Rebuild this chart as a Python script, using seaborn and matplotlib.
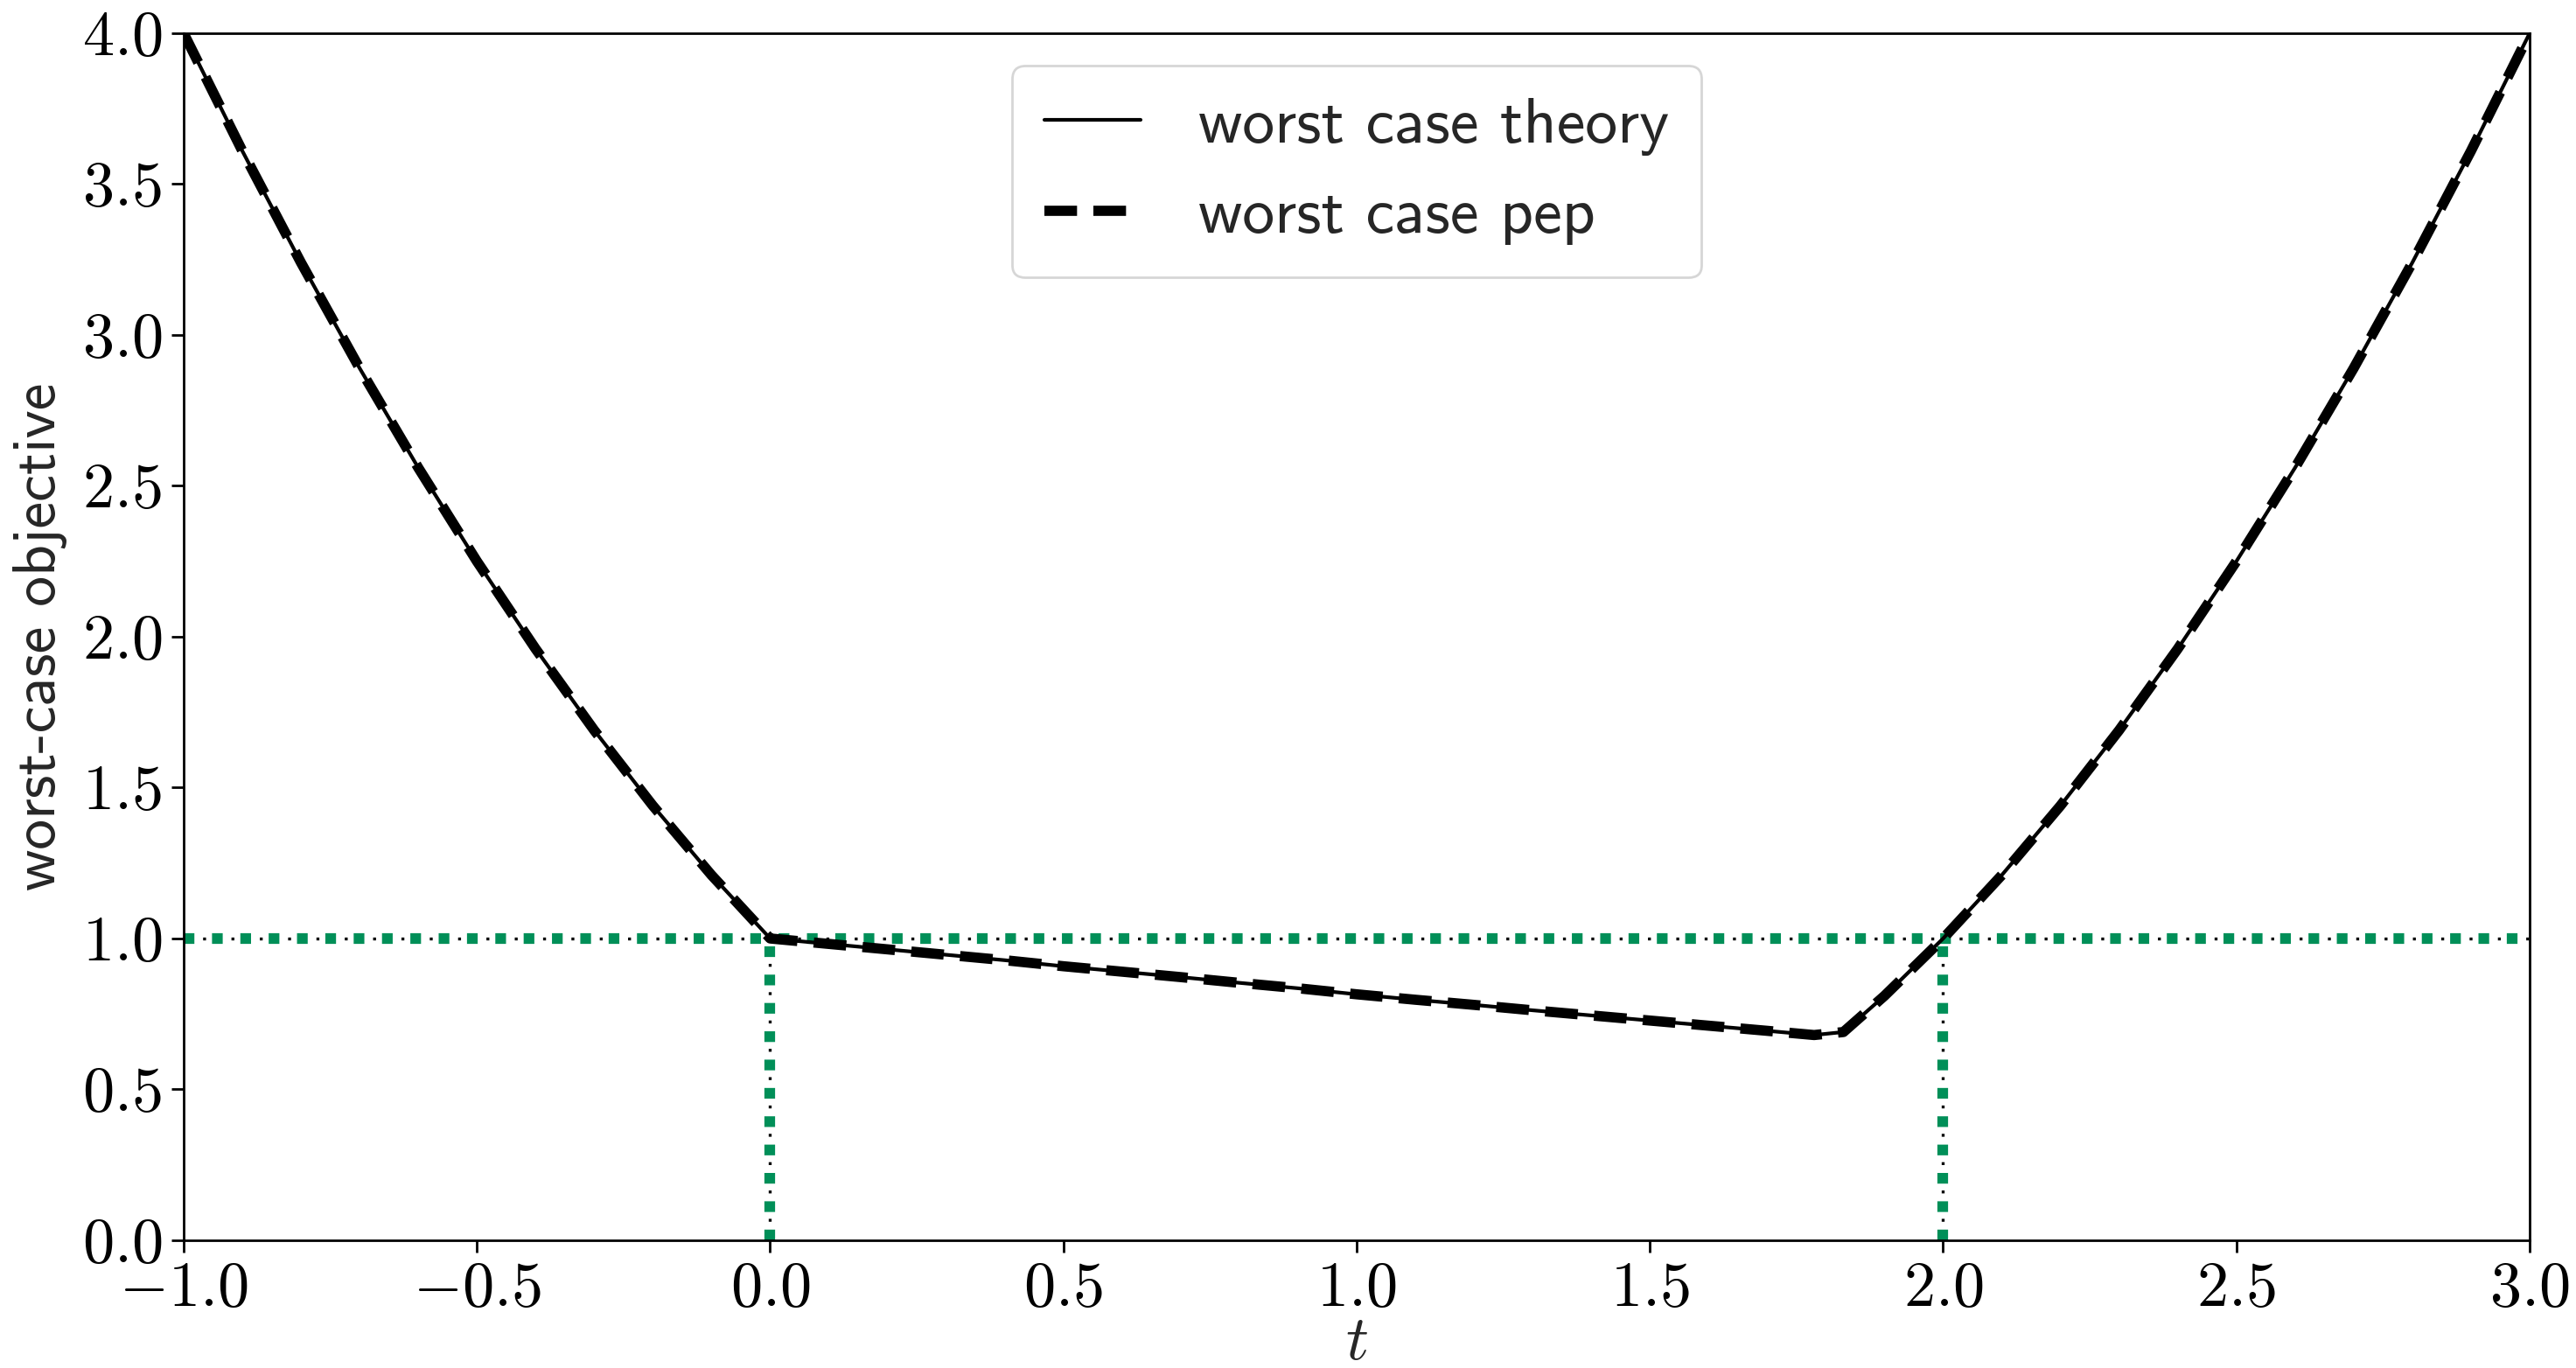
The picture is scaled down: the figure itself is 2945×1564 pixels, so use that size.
import pandas as pd
import matplotlib
matplotlib.use('Agg')
import matplotlib.pyplot as plt
import seaborn as sns

# values
t_values = [-1.0, -0.9, -0.8, -0.7, -0.6, -0.5, -0.4, -0.3, -0.2, -0.1, 0.0,
            0.1, 0.2, 0.3, 0.4, 0.5, 0.6, 0.7, 0.8, 0.9, 1.0, 1.1, 1.2, 1.3,
            1.4, 1.5, 1.6, 1.7, 1.78, 1.83, 1.9, 2.0, 2.1, 2.2, 2.3, 2.4,
            2.5, 2.6, 2.7, 2.8, 2.9, 3.0]
theory_values = [4.0, 3.61, 3.24, 2.89, 2.56, 2.25, 1.96, 1.69, 1.44, 1.21, 1.0,
                 0.982, 0.964, 0.946, 0.928, 0.908, 0.890, 0.872, 0.853, 0.835,
                 0.815, 0.797, 0.780, 0.762, 0.745, 0.728, 0.711, 0.694, 0.680,
                 0.690, 0.810, 1.0, 1.21, 1.44, 1.69, 1.96, 2.25, 2.56, 2.89,
                 3.24, 3.61, 4.0]
pep_values = list(theory_values)

ref_level = 1.0
ref_t = [0.0, 2.0]

x_ticks = [-1.0, -0.5, 0.0, 0.5, 1.0, 1.5, 2.0, 2.5, 3.0]
x_tick_labels = [r'$-1.0$', r'$-0.5$', r'$0.0$', r'$0.5$', r'$1.0$',
                 r'$1.5$', r'$2.0$', r'$2.5$', r'$3.0$']
y_ticks = [0.0, 0.5, 1.0, 1.5, 2.0, 2.5, 3.0, 3.5, 4.0]
y_tick_labels = [r'$0.0$', r'$0.5$', r'$1.0$', r'$1.5$', r'$2.0$',
                 r'$2.5$', r'$3.0$', r'$3.5$', r'$4.0$']

sns.set_theme(style='ticks')
plt.rcParams['mathtext.fontset'] = 'cm'
plt.rcParams['font.family'] = ['cmss10', 'DejaVu Sans']
plt.rcParams['axes.edgecolor'] = 'black'
plt.rcParams['xtick.color'] = 'black'
plt.rcParams['ytick.color'] = 'black'
plt.rcParams['axes.linewidth'] = 1.0

green = '#008f58'
g_lw = 4.4
b_lw = 1.2
# black dots with the same period as the green squares, sitting in the gaps
black_ls = (3.2, (1, 2.65 * g_lw / b_lw - 1))

df = pd.DataFrame({'t': t_values, 'theory': theory_values, 'pep': pep_values})

fig = plt.figure(figsize=(14.725, 7.82), dpi=200)
ax = fig.add_axes([0.0713, 0.0934, 0.9107, 0.8823])

# reference lines: thin black dots under thick green dots
ax.axhline(ref_level, color='black', lw=b_lw, ls=black_ls, zorder=1)
ax.axhline(ref_level, color=green, lw=g_lw, ls=':', zorder=1.1)
for tv in ref_t:
    ax.plot([tv, tv], [0, ref_level], color='black', lw=b_lw, ls=black_ls, zorder=1)
    ax.plot([tv, tv], [0, ref_level], color=green, lw=g_lw, ls=':', zorder=1.1)

sns.lineplot(data=df, x='t', y='theory', ax=ax, color='black', lw=1.5,
             sort=False, estimator=None, label='worst case theory', zorder=3)
sns.lineplot(data=df, x='t', y='pep', ax=ax, color='black', lw=4.2,
             linestyle=(0, (3.2, 1.6)), sort=False, estimator=None,
             label='worst case pep', zorder=2)

ax.set_xlim(-1.0, 3.0)
ax.set_ylim(0.0, 4.0)
ax.set_xticks(x_ticks)
ax.set_xticklabels(x_tick_labels, fontsize=26)
ax.set_yticks(y_ticks)
ax.set_yticklabels(y_tick_labels, fontsize=26)
ax.tick_params(length=5, width=1.0, pad=4)
for s in ax.spines.values():
    s.set_visible(True)
    s.set_color('black')

ax.set_xlabel(r'$t$', fontsize=26, labelpad=-1)
ax.set_ylabel('worst-case objective', fontsize=25, labelpad=6)

leg = ax.legend(loc='upper center', fontsize=26.5, handlelength=1.5,
                handletextpad=0.9, frameon=True, borderpad=0.5,
                borderaxespad=0.5)
leg.get_frame().set_edgecolor('0.8')

plt.savefig('out.png', dpi=200)
plt.close()
